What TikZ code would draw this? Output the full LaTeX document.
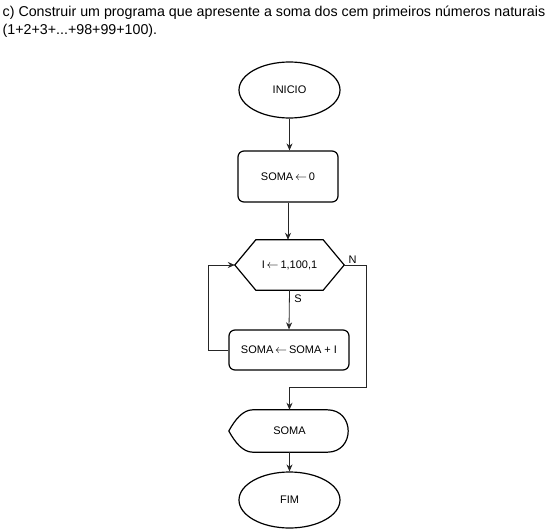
\documentclass[tikz,border=0pt]{standalone}
\usepackage{fontspec}
\setmainfont{Liberation Sans}
\usetikzlibrary{shapes.geometric,arrows.meta,calc}
\newcommand{\larr}{\,{\fontsize{13}{13}\selectfont$\leftarrow$}\,}
\begin{document}
\begin{tikzpicture}[x=1pt,y=-1pt,
  shapeline/.style={line width=1.2pt, draw=black},
  term/.style={ellipse, shapeline, minimum width=101pt, minimum height=56pt, inner sep=0pt, font=\fontsize{11}{13}\selectfont},
  procbox/.style={rectangle, rounded corners=6pt, shapeline, inner sep=0pt, font=\fontsize{11}{13}\selectfont},
  plain/.style={inner sep=0pt, font=\fontsize{11}{13}\selectfont},
  conn/.style={draw=black!85, line width=0.8pt, -{Stealth[length=7pt,width=6pt]}},
  lbl/.style={inner sep=0pt, font=\fontsize{11}{13}\selectfont},
  titlefont/.style={anchor=base west, inner sep=0pt, font=\fontsize{14.25}{16}\selectfont}
]
\useasboundingbox (0,0) rectangle (551,532);
% title
\node[titlefont] (t1) at (2.5,17) {c) Construir um programa que apresente a soma dos cem primeiros números naturais};
\node[titlefont] (t2) at (2.5,35) {(1+2+3+...+98+99+100).};
% nodes
\node[term] (ini) at (289.5,90) {INICIO};
\node[procbox, minimum width=100pt, minimum height=51pt] (s0) at (288,176.5) {SOMA\larr 0};
\node[plain, minimum width=109pt, minimum height=50pt] (loop) at (289.5,265) {I\larr 1,100,1};
\draw[shapeline] (loop.west) -- ($(loop.north west)+(21,0)$) -- ($(loop.north east)+(-21,0)$) -- (loop.east) -- ($(loop.south east)+(-21,0)$) -- ($(loop.south west)+(21,0)$) -- cycle;
\node[procbox, minimum width=120pt, minimum height=40pt] (body) at (289,350) {SOMA\larr SOMA + I};
\node[plain, minimum width=121pt, minimum height=42pt] (out) at (289.5,431) {SOMA};
\draw[shapeline] ($(out.north west)+(24,0)$) -- ($(out.north east)+(-23,0)$)
  .. controls ($(out.north east)+(5,0)$) and ($(out.south east)+(5,0)$) .. ($(out.south east)+(-23,0)$)
  -- ($(out.south west)+(24,0)$)
  .. controls ($(out.south west)+(14,0)$) and ($(out.west)+(6,11)$) .. (out.west)
  .. controls ($(out.west)+(6,-11)$) and ($(out.north west)+(14,0)$) .. ($(out.north west)+(24,0)$) -- cycle;
\node[term] (fim) at (289.5,500) {FIM};
% connectors
\draw[conn] (ini.south) -- (ini.south |- s0.north);
\draw[conn] (s0.south) -- (s0.south |- loop.north);
\draw[conn] (loop.south) -- (body.north);
\draw[conn] (body.west) -- ++(-20,0) |- (loop.west);
\draw[conn] (loop.east) -- ++(22,0) |- ($(out.north)+(0,-22)$) -- (out.north);
\draw[conn] (out.south) -- (fim.north);
% labels
\node[lbl] (nl) at (352.5,260) {N};
\node[lbl] (sl) at (298,298.5) {S};
\end{tikzpicture}
\end{document}
